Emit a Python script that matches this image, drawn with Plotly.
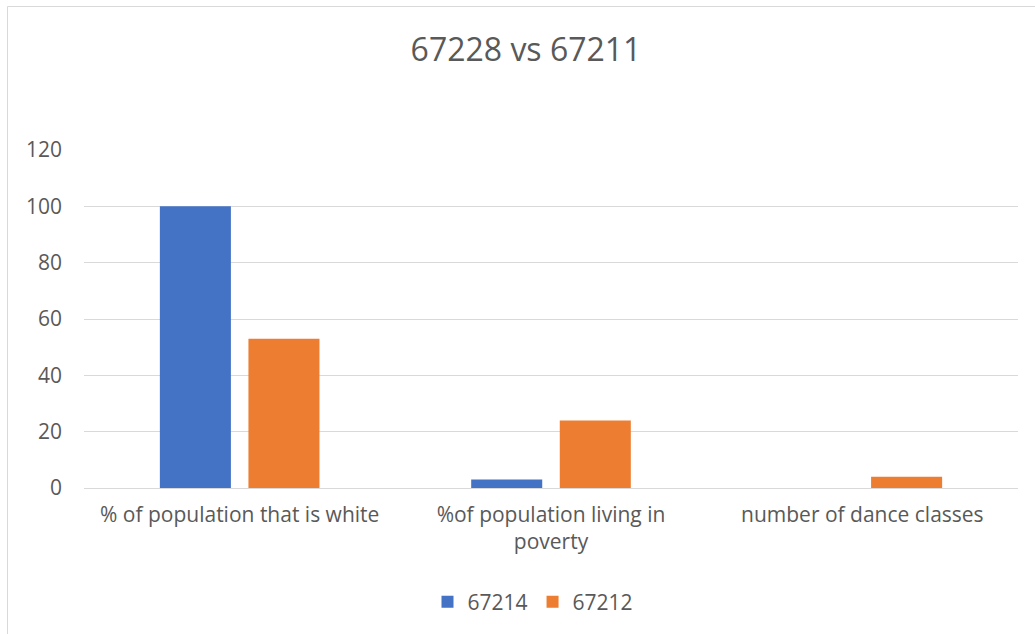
import plotly.graph_objects as go

categories = ["% of population that is white", "%of population living in<br>poverty", "number of dance classes"]
series_names = ["67214", "67212"]
values_67214 = [100, 3, 0]
values_67212 = [53, 24, 4]
colors = ["#4472C4", "#ED7D31"]
title_text = "67228 vs 67211"

W, H = 1035, 634
L, R, T, B = 84, 17, 150, 146
pw, ph = W - L - R, H - T - B

def px_x(x):
    return (x - L) / pw

def px_y(y):
    return (H - B - y) / ph

fig = go.Figure()
for name, vals, col in zip(series_names, [values_67214, values_67212], colors):
    fig.add_trace(go.Bar(x=categories, y=vals, name=name, marker=dict(color=col, line=dict(width=0))))

font_family = "'Open Sans', sans-serif"
fig.update_layout(
    width=W, height=H,
    margin=dict(l=L, r=R, t=T, b=B, autoexpand=False),
    paper_bgcolor="white", plot_bgcolor="white",
    barmode="group", bargap=0.431, bargroupgap=0.198,
    title=dict(text=title_text, x=526 / W, xref="container", xanchor="center",
               y=1 - 50 / H, yref="container", yanchor="middle",
               font=dict(family=font_family, size=32, color="#595959")),
    font=dict(family=font_family, size=21, color="#595959"),
    xaxis=dict(showgrid=False, showline=False, ticks="", ticklabelstandoff=12,
               tickfont=dict(size=21, color="#595959")),
    yaxis=dict(range=[0, 120], dtick=20, showgrid=True, gridcolor="#D9D9D9", gridwidth=1,
               zeroline=True, zerolinecolor="#D9D9D9", zerolinewidth=1,
               showline=False, ticks="", ticklabelstandoff=21,
               tickfont=dict(size=21, color="#595959")),
    legend=dict(orientation="h", x=533 / W, xanchor="center", xref="container",
                y=1 - 602 / H, yref="container", yanchor="middle",
                font=dict(size=21, color="#595959"), itemwidth=30, traceorder="normal"),
    shapes=[dict(type="rect", xref="paper", yref="paper",
                 x0=px_x(7.5), x1=px_x(1045), y0=px_y(645), y1=px_y(6.5),
                 line=dict(color="#D9D9D9", width=1), fillcolor="rgba(0,0,0,0)", layer="below")],
)

fig.write_html("out.html")
